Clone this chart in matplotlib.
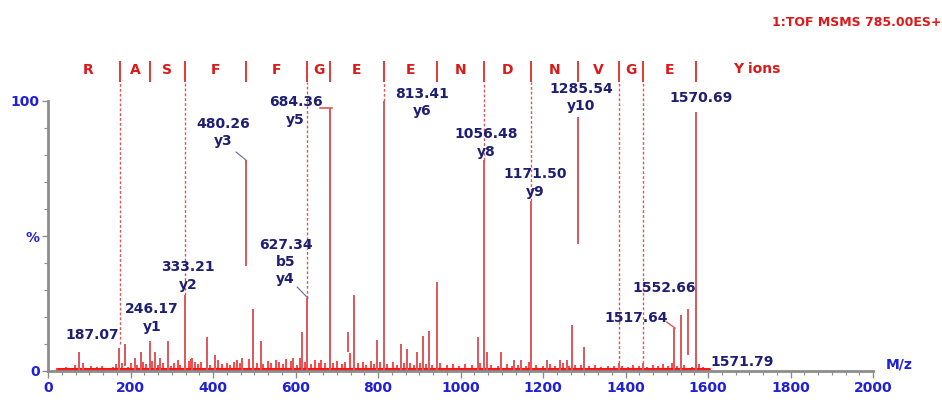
#!/usr/bin/env python3
"""MS/MS spectrum (TOF MSMS 785.00ES+) with y-ion sequence ladder."""
import numpy as np
import matplotlib; matplotlib.use("Agg")
import matplotlib.pyplot as plt
from matplotlib.ticker import MultipleLocator, FixedLocator

# --- main fragment peaks: m/z, relative intensity (%), start of drawn segment (%)
peak_mz  = [75, 85, 172, 187.07, 210, 225, 246.17, 260, 272, 291,
            333.21, 350, 385, 404, 470, 480.26, 497, 516, 595, 616,
            627.34, 684.36, 727, 742, 797, 813.41, 856, 870, 895, 909,
            923, 942.45, 1042, 1056.48, 1065, 1098, 1130, 1147, 1171.50, 1210,
            1240, 1257, 1270, 1285.54, 1300, 1384.62, 1441.64, 1517.64, 1535, 1552.66,
            1570.69, 1571.79]
peak_int = [7, 3, 8.5, 10, 5, 7, 11, 7, 5, 11,
            28, 5, 12.5, 6, 5, 78, 23, 11, 5, 14.5,
            27, 97.4, 14.5, 28, 11.5, 100, 10, 8, 7, 13,
            15, 33, 12.5, 78, 7, 7, 4, 4, 63, 4,
            4, 4, 17, 94, 9, 3, 3, 16, 20.7, 23,
            96, 2.5]
peak_lo  = [0, 0, 0, 2, 0, 0, 0, 0, 0, 0,
            0, 0, 0, 0, 0, 39, 0, 0, 0, 0,
            0, 0, 7, 0, 0, 0, 0, 0, 0, 0,
            0, 0, 0, 0, 0, 0, 0, 0, 0, 0,
            0, 0, 0, 47, 0, 0, 0, 0, 0, 6,
            0, 0]

# --- baseline noise
noise_mz  = [22, 31, 44, 58, 66, 92, 104, 118, 131, 143,
             158, 166, 179, 194, 201, 216, 231, 238, 252, 266,
             279, 298, 306, 314, 321, 341, 346, 357, 363, 372,
             393, 412, 421, 433, 441, 452, 458, 466, 487, 506,
             521, 533, 541, 552, 561, 570, 578, 588, 603, 611,
             622, 638, 647, 656, 663, 671, 692, 701, 712, 719,
             733, 751, 763, 772, 783, 791, 806, 822, 836, 847,
             862, 877, 887, 902, 916, 931, 951, 968, 983, 997,
             1012, 1027, 1048, 1075, 1091, 1112, 1124, 1139, 1158, 1166,
             1184, 1199, 1218, 1229, 1248, 1263, 1278, 1293, 1312, 1326,
             1341, 1358, 1372, 1392, 1405, 1418, 1432, 1452, 1466, 1478,
             1490, 1503, 1512, 1524, 1543, 1561, 1578, 1588, 1597, 1604]
noise_int = [1.2, 0.8, 1.5, 1.0, 2.2, 1.1, 1.8, 1.3, 2.0, 1.0,
             1.6, 2.5, 2.8, 1.4, 3.0, 2.2, 3.4, 2.6, 3.8, 2.1,
             2.9, 1.8, 3.1, 4.2, 2.4, 3.6, 4.4, 3.2, 2.7, 3.5,
             2.3, 3.9, 2.6, 3.1, 2.2, 3.3, 4.0, 2.8, 4.6, 3.0,
             2.5, 3.7, 2.9, 4.1, 3.4, 2.7, 4.3, 3.6, 2.4, 4.8,
             3.2, 2.6, 3.9, 3.1, 4.2, 2.8, 3.0, 3.7, 2.5, 3.3,
             6.5, 2.9, 3.5, 2.4, 3.8, 2.7, 3.2, 2.6, 3.4, 2.2,
             3.0, 2.8, 2.3, 3.1, 2.6, 2.4, 2.9, 2.2, 2.7, 2.0,
             2.5, 2.1, 3.0, 2.4, 1.9, 2.6, 2.0, 2.3, 1.8, 3.2,
             2.2, 1.7, 2.5, 2.0, 2.8, 1.9, 2.4, 2.1, 1.8, 2.3,
             1.6, 2.0, 1.7, 1.9, 1.5, 2.2, 1.8, 1.6, 2.4, 1.9,
             2.6, 2.0, 2.8, 1.7, 2.1, 1.5, 2.5, 1.4, 1.2, 0.8]

# --- y-ion ladder (boundaries) and sequence letters
y_mz     = [19.02, 175.12, 246.17, 333.21, 480.26, 627.34, 684.36, 813.41,
            942.45, 1056.48, 1171.50, 1285.54, 1384.61, 1441.63, 1570.69]
residues = ["R", "A", "S", "F", "F", "G", "E", "E", "N", "D", "N", "V", "G", "E"]
long_sep = [175.12, 333.21, 627.34, 813.41, 1056.48, 1171.50, 1384.61, 1441.63]
sep_stop = [10, 28, 27, 100, 78, 63, 1, 1]

# --- peak annotations (text, x, y)
ann_text = ["187.07", "246.17\ny1", "333.21\ny2", "480.26\ny3", "627.34\nb5\ny4",
            "684.36\ny5", "813.41\ny6", "1056.48\ny8", "1171.50\ny9", "1285.54\ny10",
            "1570.69", "1552.66", "1517.64", "1571.79"]
ann_x    = [107, 252, 339, 425, 576, 600, 907, 1062, 1181, 1293, 1583, 1493, 1425, 1682]
ann_y    = [13.3, 19.6, 35.2, 88.3, 40.4, 96.3, 99.5, 84.4, 69.6, 101.3, 101.1, 30.7, 19.6, 3.3]

RED = "#ff1414"; PEAK = "#d9575c"; NAVY = "#1e1e72"; BLUE = "#2020d8"
SEQ = "#dc1818"; GREY = "#8c8c8c"

fig = plt.figure(figsize=(9.42, 4.03), dpi=100)
ax = fig.add_axes([48/942, 26.6/403, 825/942, 356.4/403])
ax.set_xlim(0, 2000); ax.set_ylim(-2, 130)

# noise first, then peaks on top
ax.hlines(0.6, noise_mz[0], noise_mz[-1], color=RED, lw=2.2)
ax.vlines(noise_mz, 0, noise_int, color=RED, lw=1.1)
ax.vlines(peak_mz, peak_lo, peak_int, color=PEAK, lw=1.4)

# sequence ladder
for m in y_mz[1:]:
    ax.vlines(m, 107, 115, color=SEQ, lw=1.2)
for m, stop in zip(long_sep, sep_stop):
    ax.vlines(m, stop, 107, color=PEAK, lw=1.0, linestyles=(0, (2, 1.5)))
for i, r in enumerate(residues):
    ax.text((y_mz[i] + y_mz[i+1]) / 2, 111.5, r, color=SEQ, fontsize=10,
            fontweight="bold", ha="center", va="center")
ax.text(1660, 112, "Y ions", color=SEQ, fontsize=10, fontweight="bold",
        ha="left", va="center")

for t, x, y in zip(ann_text, ann_x, ann_y):
    ax.text(x, y, t, color=NAVY, fontsize=10, fontweight="bold",
            ha="center", va="center", linespacing=1.3)

# leader lines
ax.plot([456, 480], [81.1, 78.1], color="#6a6a8a", lw=0.8)
ax.plot([604, 630], [31.1, 27.0], color="#6a6a8a", lw=0.8)
ax.plot([659, 688], [97.4, 97.4], color=PEAK, lw=1.2)
ax.plot([1500, 1520], [18.1, 15.9], color=PEAK, lw=1.0)

fig.text(0.999, 0.945, "1:TOF MSMS 785.00ES+", color=SEQ, fontsize=9,
         fontweight="bold", ha="right", va="center")
ax.text(2030, 2.5, "M/z", color=BLUE, fontsize=10, fontweight="bold",
        ha="left", va="center", clip_on=False)

# axes styling
for s in ("top", "right"):
    ax.spines[s].set_visible(False)
ax.spines["bottom"].set_position(("data", 0))
ax.spines["bottom"].set_bounds(0, 2000)
ax.spines["left"].set_bounds(0, 100)
ax.spines["left"].set_color(GREY); ax.spines["left"].set_linewidth(2)
ax.spines["bottom"].set_color(GREY); ax.spines["bottom"].set_linewidth(2)

ax.set_xticks(np.arange(0, 2001, 200))
ax.xaxis.set_minor_locator(MultipleLocator(200 / 6))
ax.tick_params(axis="x", which="major", length=5, width=1, color=GREY,
               labelcolor=BLUE, labelsize=10, pad=2)
ax.tick_params(axis="x", which="minor", length=3, width=0.8, color=GREY)
for lab in ax.get_xticklabels():
    lab.set_fontweight("bold")

ax.set_yticks([0, 50, 100])
ax.set_yticklabels(["0", "%", "100"])
ax.yaxis.set_minor_locator(FixedLocator(np.arange(10, 100, 10)))
ax.tick_params(axis="y", which="major", length=4, width=1, color=GREY,
               labelcolor=BLUE, labelsize=10, pad=2)
ax.tick_params(axis="y", which="minor", length=3, width=0.8, color=GREY)
for lab in ax.get_yticklabels():
    lab.set_fontweight("bold")

fig.savefig("out.png", dpi=100)
